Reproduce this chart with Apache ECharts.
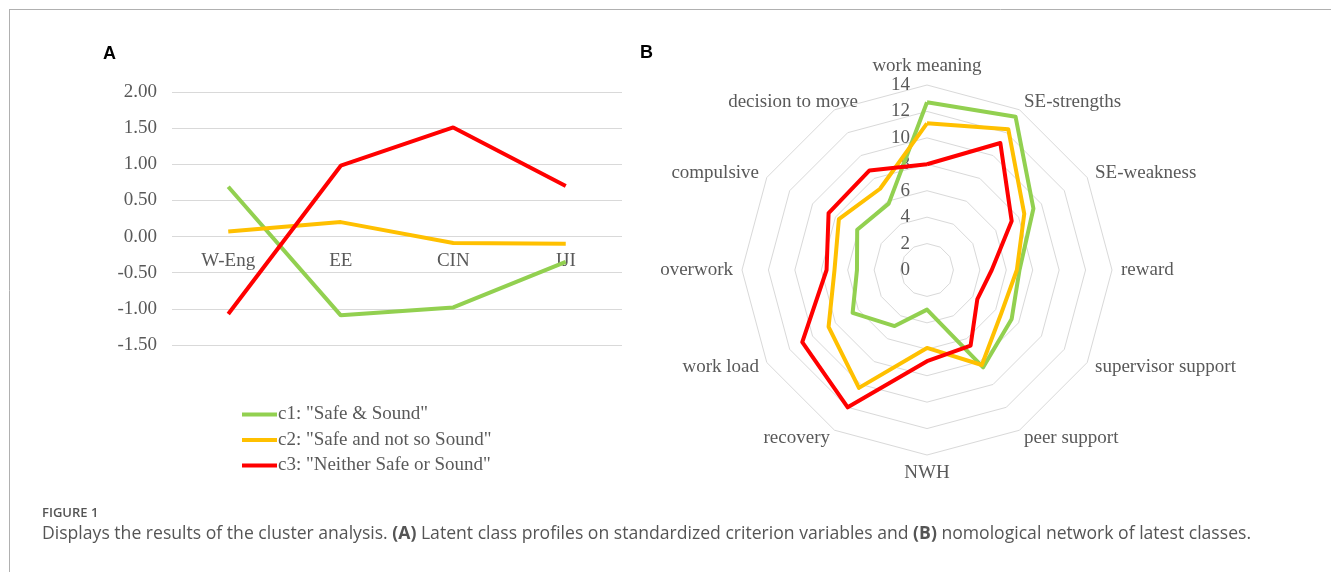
<!DOCTYPE html>
<html>
<head>
<meta charset="utf-8">
<script src="https://cdn.jsdelivr.net/npm/echarts@6/dist/echarts.min.js"></script>
<style>
html,body{margin:0;padding:0;background:#fff;}
#main{width:1331px;height:572px;}
</style>
</head>
<body>
<div id="main"></div>
<script>
// ---- Panel A data ----
const categories = ['W-Eng', 'EE', 'CIN', 'IJI'];
const seriesNames = ['c1: "Safe & Sound"', 'c2: "Safe and not so Sound"', 'c3: "Neither Safe or Sound"'];
const c1Line = [0.69, -1.09, -0.98, -0.35];
const c2Line = [0.07, 0.20, -0.09, -0.10];
const c3Line = [-1.07, 0.98, 1.51, 0.70];
const yMin = -1.5, yMax = 2, yStep = 0.5;

// ---- Panel B data (clockwise from top) ----
const radarAxes = ['work meaning', 'SE-strengths', 'SE-weakness', 'reward', 'supervisor support', 'peer support', 'NWH', 'recovery', 'work load', 'overwork', 'compulsive', 'decision to move'];
const c1Radar = [12.7, 13.4, 9.3, 7.0, 7.4, 8.5, 3.0, 4.9, 6.5, 5.3, 6.1, 5.8];
const c2Radar = [11.1, 12.3, 8.5, 6.8, 6.5, 8.3, 5.9, 10.3, 8.6, 7.0, 7.7, 7.1];
const c3Radar = [8.0, 11.1, 7.4, 4.9, 4.4, 6.6, 6.9, 12.0, 10.9, 7.6, 8.6, 8.7];
const radarMax = 14;

const colors = ['#92D050', '#FFC000', '#FF0000'];
const textColor = '#595959';
const serif = '"Liberation Serif", "Times New Roman", serif';
const lw = 4;

// ECharts lays radar indicators counter-clockwise; reorder so they read clockwise
const ccw = arr => [arr[0]].concat(arr.slice(1).reverse());

const gridTop = 92, gridH = 253;
// move the category axis up from the grid bottom to the value-axis zero line
const zeroOffset = -gridH * (0 - yMin) / (yMax - yMin);

const chart = echarts.init(document.getElementById('main'));
chart.setOption({
  animation: false,
  backgroundColor: '#fff',
  grid: { left: 172, top: gridTop, width: 450, height: gridH, containLabel: false },
  xAxis: {
    type: 'category',
    data: categories,
    boundaryGap: true,
    position: 'bottom',
    offset: zeroOffset,
    axisLine: { show: false, onZero: false },
    axisTick: { show: false },
    axisLabel: { color: textColor, fontFamily: serif, fontSize: 19, margin: 15 }
  },
  yAxis: {
    type: 'value',
    min: yMin, max: yMax, interval: yStep,
    axisLine: { show: false },
    axisTick: { show: false },
    axisLabel: { color: textColor, fontFamily: serif, fontSize: 19, margin: 15, formatter: v => v.toFixed(2) },
    splitLine: { lineStyle: { color: '#d9d9d9', width: 1 } }
  },
  legend: {
    data: seriesNames,
    orient: 'vertical',
    left: 237, top: 400,
    itemWidth: 35, itemHeight: 19, itemGap: 6.5,
    icon: 'path://M0,7.5 L35,7.5 L35,11.5 L0,11.5 Z',
    textStyle: { color: textColor, fontFamily: serif, fontSize: 19, padding: [0, 0, 0, -4] }
  },
  radar: {
    center: [927, 270],
    radius: 185,
    startAngle: 90,
    shape: 'polygon',
    splitNumber: 7,
    indicator: ccw(radarAxes).map(n => ({ name: n, min: 0, max: radarMax })),
    axisName: {
      color: textColor, fontFamily: serif, fontSize: 19,
      formatter: n => n === 'decision to move' ? '{d|' + n + '}' : n,
      rich: { d: { color: textColor, fontFamily: serif, fontSize: 19, padding: [0, -28, 0, 0] } }
    },
    nameGap: 9,
    axisLine: { show: false },
    axisTick: { show: false },
    axisLabel: { show: false },
    splitLine: { lineStyle: { color: '#d9d9d9', width: 1 } },
    splitArea: { show: false }
  },
  polar: { center: [927, 270], radius: 185 },
  angleAxis: { show: false, startAngle: 90, min: 0, max: 360 },
  radiusAxis: {
    min: 0, max: radarMax, interval: 2,
    axisLine: { show: false },
    axisTick: { show: false },
    splitLine: { show: false },
    axisLabel: { color: textColor, fontFamily: serif, fontSize: 19, margin: 17 }
  },
  series: [
    { name: seriesNames[0], type: 'line', data: c1Line, symbol: 'none', lineStyle: { color: colors[0], width: lw }, itemStyle: { color: colors[0] } },
    { name: seriesNames[1], type: 'line', data: c2Line, symbol: 'none', lineStyle: { color: colors[1], width: lw }, itemStyle: { color: colors[1] } },
    { name: seriesNames[2], type: 'line', data: c3Line, symbol: 'none', lineStyle: { color: colors[2], width: lw }, itemStyle: { color: colors[2] } },
    {
      type: 'radar',
      symbol: 'none',
      data: [
        { name: seriesNames[0], value: ccw(c1Radar), lineStyle: { color: colors[0], width: lw }, itemStyle: { color: colors[0] } },
        { name: seriesNames[1], value: ccw(c2Radar), lineStyle: { color: colors[1], width: lw }, itemStyle: { color: colors[1] } },
        { name: seriesNames[2], value: ccw(c3Radar), lineStyle: { color: colors[2], width: lw }, itemStyle: { color: colors[2] } }
      ]
    },
    { type: 'scatter', coordinateSystem: 'polar', data: [], silent: true }
  ],
  graphic: [
    { type: 'line', shape: { x1: 9, y1: 9.5, x2: 1331, y2: 9.5 }, style: { stroke: '#b0b0b0', lineWidth: 1 }, silent: true },
    { type: 'line', shape: { x1: 9.5, y1: 9, x2: 9.5, y2: 572 }, style: { stroke: '#b0b0b0', lineWidth: 1 }, silent: true },
    { type: 'text', x: 103, y: 45, style: { text: 'A', font: 'bold 18px "Liberation Sans", Arial, sans-serif', fill: '#000' } },
    { type: 'text', x: 640, y: 44, style: { text: 'B', font: 'bold 18px "Liberation Sans", Arial, sans-serif', fill: '#000' } },
    { type: 'text', x: 42, y: 507, style: { text: 'FIGURE 1', font: '600 13px "Open Sans", sans-serif', fill: '#555' } },
    { type: 'text', x: 42, y: 525, style: {
        text: 'Displays the results of the cluster analysis. {b|(A)} Latent class profiles on standardized criterion variables and {b|(B)} nomological network of latest classes.',
        font: '17.6px "Open Sans", sans-serif', fill: '#555',
        rich: { b: { fontWeight: 'bold', fontFamily: '"Open Sans", sans-serif', fontSize: 17.6, fill: '#555', color: '#555' } }
      } }
  ]
});
</script>
</body>
</html>
